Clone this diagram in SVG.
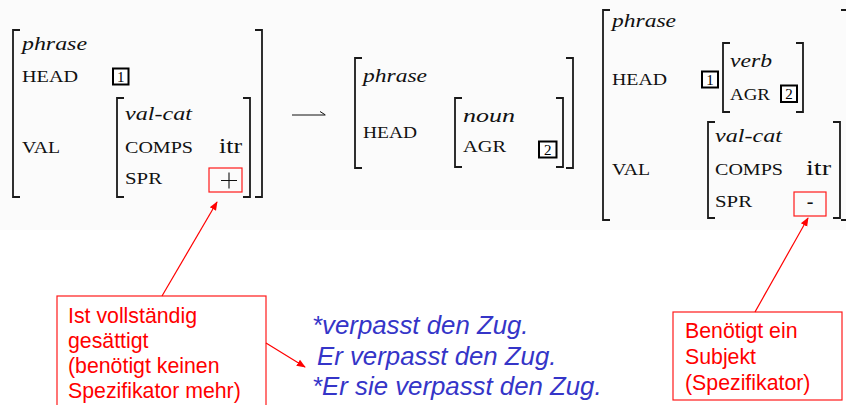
<svg xmlns="http://www.w3.org/2000/svg" width="846" height="405" viewBox="0 0 846 405">
<defs>
<style>
.br{fill:none;stroke:#1a1a1a;stroke-width:1.8}
.it{font-family:"Liberation Serif",serif;font-style:italic;font-size:19px;fill:#111}
.sc{font-family:"Liberation Serif",serif;font-size:17px;fill:#111}
.rm{font-family:"Liberation Serif",serif;font-size:20px;fill:#111}
.tag{fill:#fff;stroke:#000;stroke-width:2}
.tn{font-family:"Liberation Serif",serif;font-size:15px;fill:#000;text-anchor:middle}
.rbox{fill:none;stroke:#ff1a1a;stroke-width:1.2}
.rt{font-family:"Liberation Sans",Arial,sans-serif;font-size:21.3px;fill:#ff0000}
.bt{font-family:"Liberation Sans",Arial,sans-serif;font-style:italic;font-size:25.8px;fill:#3535c8}
.ra{fill:none;stroke:#ff0000;stroke-width:1.2}
</style>
<marker id="rh" viewBox="0 0 10 10" refX="9" refY="5" markerWidth="9" markerHeight="9" markerUnits="userSpaceOnUse" orient="auto">
<path d="M0,1 L10,5 L0,9 z" fill="#ff0000"/>
</marker>
</defs>
<rect x="0" y="0" width="846" height="230" fill="#fbfbfb"/>
<rect x="0" y="230" width="846" height="175" fill="#ffffff"/>

<g id="avm-left">
<path class="br" d="M20,30 H13 V197 H20"/>
<path class="br" d="M255,30 H262 V197 H255"/>
<text class="it" x="22" y="50" textLength="65" lengthAdjust="spacingAndGlyphs">phrase</text>
<text class="sc" x="22" y="82" textLength="56" lengthAdjust="spacingAndGlyphs">HEAD</text>
<rect class="tag" x="113" y="68.5" width="15.5" height="16"/>
<text class="tn" x="120.8" y="82">1</text>
<text class="sc" x="22" y="153" textLength="38" lengthAdjust="spacingAndGlyphs">VAL</text>
<path class="br" d="M124,98 H117 V197 H124"/>
<path class="br" d="M243,98 H250 V197 H243"/>
<text class="it" x="125" y="120" textLength="67" lengthAdjust="spacingAndGlyphs">val-cat</text>
<text class="sc" x="125" y="153" textLength="68" lengthAdjust="spacingAndGlyphs">COMPS</text>
<text class="rm" x="219" y="153" textLength="23" lengthAdjust="spacingAndGlyphs">itr</text>
<text class="sc" x="125" y="184" textLength="37" lengthAdjust="spacingAndGlyphs">SPR</text>
<rect class="rbox" x="209" y="168" width="33" height="24"/>
<path d="M221,180.5 H237 M229,172.5 V188.5" stroke="#111" stroke-width="1.1" fill="none"/>
</g>

<g id="avm-middle">
<path class="br" d="M362,58 H355 V168 H362"/>
<path class="br" d="M566,58 H573 V168 H566"/>
<text class="it" x="363" y="82" textLength="64" lengthAdjust="spacingAndGlyphs">phrase</text>
<text class="sc" x="363" y="138" textLength="54" lengthAdjust="spacingAndGlyphs">HEAD</text>
<path class="br" d="M462,98 H455 V167 H462"/>
<path class="br" d="M556,98 H563 V167 H556"/>
<text class="it" x="463" y="122" textLength="52" lengthAdjust="spacingAndGlyphs">noun</text>
<text class="sc" x="463" y="152" textLength="43" lengthAdjust="spacingAndGlyphs">AGR</text>
<rect class="tag" x="539" y="141.5" width="17.5" height="16"/>
<text class="tn" x="547.8" y="155">2</text>
</g>

<g id="avm-right">
<path class="br" d="M610,10 H603 V220 H610"/>
<path class="br" d="M841,10 H846 M841,220 H846"/>
<text class="it" x="612" y="27" textLength="64" lengthAdjust="spacingAndGlyphs">phrase</text>
<text class="sc" x="612" y="85" textLength="55" lengthAdjust="spacingAndGlyphs">HEAD</text>
<rect class="tag" x="702" y="71.5" width="16" height="16"/>
<text class="tn" x="710" y="85">1</text>
<path class="br" d="M730,43 H723 V112 H730"/>
<path class="br" d="M796,43 H803 V112 H796"/>
<text class="it" x="730" y="67" textLength="42" lengthAdjust="spacingAndGlyphs">verb</text>
<text class="sc" x="730" y="100" textLength="40" lengthAdjust="spacingAndGlyphs">AGR</text>
<rect class="tag" x="781" y="85.5" width="16" height="16.5"/>
<text class="tn" x="789" y="99">2</text>
<text class="sc" x="612" y="175" textLength="38" lengthAdjust="spacingAndGlyphs">VAL</text>
<path class="br" d="M715,122 H708 V218 H715"/>
<path class="br" d="M833,122 H840 V218 H833"/>
<text class="it" x="715" y="142" textLength="67" lengthAdjust="spacingAndGlyphs">val-cat</text>
<text class="sc" x="715" y="175" textLength="68" lengthAdjust="spacingAndGlyphs">COMPS</text>
<text class="rm" x="806" y="175" textLength="25" lengthAdjust="spacingAndGlyphs">itr</text>
<text class="sc" x="715" y="207" textLength="37" lengthAdjust="spacingAndGlyphs">SPR</text>
<rect class="rbox" x="794" y="192" width="32" height="24"/>
<text class="rm" x="810" y="208" text-anchor="middle">-</text>
</g>

<g id="note-left">
<rect class="rbox" x="57" y="296" width="209" height="115"/>
<text class="rt" x="68" y="323">Ist vollständig</text>
<text class="rt" x="68" y="348">gesättigt</text>
<text class="rt" x="68" y="373">(benötigt keinen</text>
<text class="rt" x="68" y="398">Spezifikator mehr)</text>
</g>

<g id="examples">
<text class="bt" x="312" y="334">*verpasst den Zug.</text>
<text class="bt" x="317" y="365">Er verpasst den Zug.</text>
<text class="bt" x="312" y="395">*Er sie verpasst den Zug.</text>
</g>

<g id="note-right">
<rect class="rbox" x="673" y="312" width="169" height="88"/>
<text class="rt" x="685" y="338">Benötigt ein</text>
<text class="rt" x="685" y="364">Subjekt</text>
<text class="rt" x="685" y="390">(Spezifikator)</text>
</g>

<g id="connectors">
<path d="M292,115 H325 M320,111.5 L325.5,115" fill="none" stroke="#111" stroke-width="1"/>
<line class="ra" x1="162" y1="296" x2="217" y2="202" marker-end="url(#rh)"/>
<line class="ra" x1="266" y1="343" x2="305" y2="367" marker-end="url(#rh)"/>
<line class="ra" x1="755" y1="312" x2="808" y2="218" marker-end="url(#rh)"/>
</g>
</svg>
